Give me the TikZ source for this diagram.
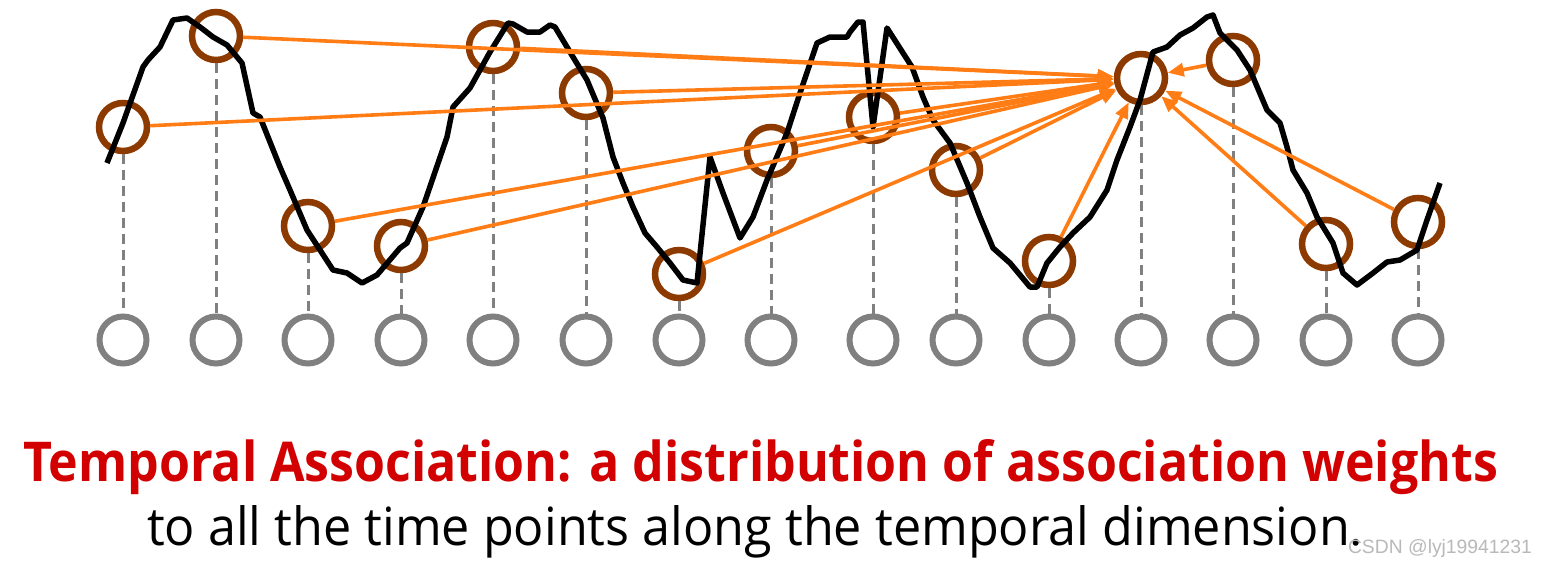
\documentclass[tikz,border=0pt]{standalone}
\usepackage{fontspec}
\usepackage{graphicx}
\setmainfont{Open Sans}
\newfontfamily\wmfont{Liberation Sans}
\usetikzlibrary{arrows.meta}
\definecolor{orng}{RGB}{255,125,20}
\definecolor{brwn}{RGB}{140,58,0}
\definecolor{gry}{RGB}{128,128,128}
\definecolor{ttlred}{RGB}{210,0,0}
\definecolor{wmgray}{RGB}{185,185,185}
\begin{document}
\begin{tikzpicture}[x=1pt,y=-1pt,
  grayring/.style={circle, draw=gry, line width=6pt, minimum size=47pt, inner sep=0pt},
  brownring/.style={circle, draw=brwn, line width=6.5pt, minimum size=48pt, inner sep=0pt},
  guide/.style={draw=gry, line width=3pt, dash pattern=on 10pt off 6pt},
  assoc/.style={draw=orng, line width=3.6pt, -{Triangle[length=16pt,width=13pt]}},
  series/.style={draw=black, line width=5.5pt, line join=round, line cap=butt},
  txt/.style={anchor=base west, inner sep=0pt, outer sep=0pt}]
\useasboundingbox (0,0) rectangle (1548,566);
\fill[white] (0,0) rectangle (1548,566);

\foreach \i/\x/\y in {1/123/127, 2/216/36, 3/308/226, 4/401/246, 5/493/47,
  6/586/93, 7/679/274, 8/771/151, 9/873/117, 10/956/170, 11/1049/261,
  12/1141/78, 13/1233/60, 14/1326/244, 15/1418/222}{
  \node[grayring] (g\i) at (\x,340) {};
  \node[brownring] (b\i) at (\x,\y) {};
}

\foreach \i in {1,...,15}{
  \draw[guide] (b\i.south) -- (g\i.north);
}

\draw[series] (107,163) -- (123,123) -- (143,67) -- (148,60) -- (160,47) -- (173,20)
  -- (187,18) -- (200,27) -- (213,37) -- (227,45) -- (242,63) -- (253,113) -- (260,117)
  -- (280,167) -- (290,190) -- (307,230) -- (333,270) -- (347,273) -- (362,283)
  -- (377,275) -- (400,248) -- (407,243) -- (423,207) -- (447,137) -- (453,107)
  -- (470,88) -- (480,70) -- (490,52) -- (508,23) -- (513,24) -- (527,32) -- (540,32)
  -- (550,25) -- (555,27) -- (573,57) -- (587,80) -- (603,118) -- (613,157)
  -- (623,183) -- (633,207) -- (645,233) -- (657,247) -- (670,263) -- (683,280)
  -- (697,283) -- (710,157) -- (723,193) -- (740,238) -- (753,217) -- (767,180)
  -- (787,133) -- (800,93) -- (817,43) -- (830,37) -- (847,37) -- (850,32) -- (858,22)
  -- (863,22) -- (873,127) -- (887,28) -- (912,67) -- (923,97) -- (933,120)
  -- (950,143) -- (967,183) -- (980,217) -- (993,248) -- (1010,263) -- (1030,287)
  -- (1037,287) -- (1047,263) -- (1060,247) -- (1073,233) -- (1090,217) -- (1107,190)
  -- (1117,160) -- (1130,127) -- (1140,100) -- (1153,52) -- (1167,47) -- (1180,35)
  -- (1193,28) -- (1207,17) -- (1213,15) -- (1220,33) -- (1237,50) -- (1250,70)
  -- (1267,110) -- (1280,123) -- (1287,147) -- (1293,170) -- (1307,193) -- (1317,217)
  -- (1333,243) -- (1343,273) -- (1357,285) -- (1373,273) -- (1387,262) -- (1400,260)
  -- (1417,250) -- (1427,220) -- (1440,183);

\foreach \i in {1,2,3,4,5,6,7,8,9,10,11,13,14,15}{
  \draw[assoc] (b\i) -- (b12);
}

\node[txt, text=ttlred] (title) at (23,481)
  {\resizebox{1475pt}{42pt}{\bfseries Temporal Association: a distribution of association weights}};
\node[txt, text=black] (sub) at (147,545)
  {\resizebox{1216pt}{40pt}{to all the time points along the temporal dimension.}};
\node[txt, text=wmgray] (wm) at (1348,553)
  {\resizebox{184pt}{!}{\wmfont CSDN @lyj19941231}};
\end{tikzpicture}
\end{document}
